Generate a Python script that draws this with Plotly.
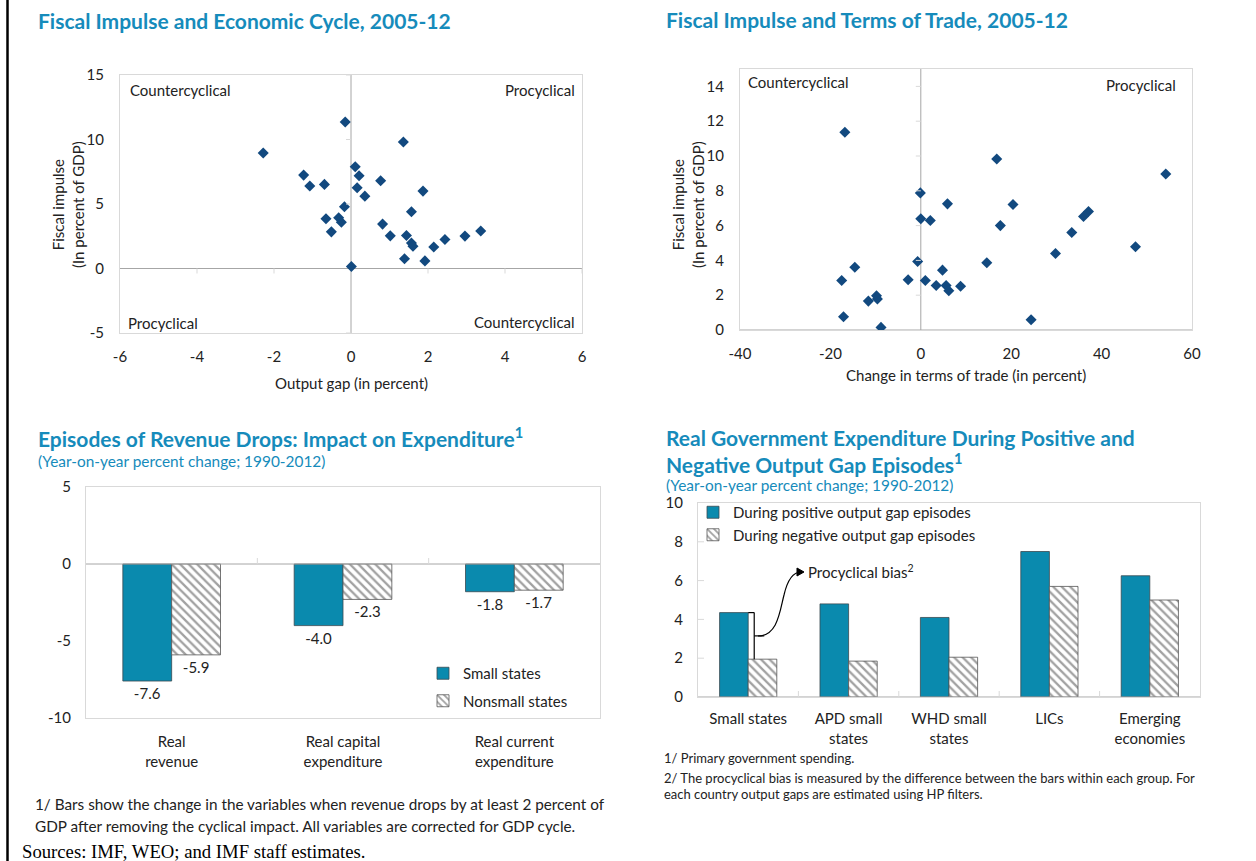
import plotly.graph_objects as go

# ---------------- DATA ----------------
# Chart 1: Fiscal impulse vs output gap
gap_x = [-2.28, -0.15, 1.36, -1.23, -1.07, -0.69, 0.11, 0.21, 0.77, 0.16, 1.87, 0.36, -0.17, 1.57, -0.65,
         -0.32, -0.25, 0.82, -0.51, 1.02, 1.44, 3.37, 2.96, 2.44, 1.57, 1.61, 2.15, 1.39, 1.92, 0.01]
gap_y = [8.95, 11.35, 9.80, 7.24, 6.39, 6.52, 7.89, 7.19, 6.80, 6.26, 6.00, 5.61, 4.78, 4.40, 3.85,
         3.93, 3.59, 3.44, 2.84, 2.53, 2.56, 2.90, 2.51, 2.25, 1.97, 1.73, 1.66, 0.75, 0.59, 0.16]

# Chart 2: Fiscal impulse vs change in terms of trade
tot_x = [-16.8, 16.8, 54.2, -0.1, 5.9, 20.4, 37.1, 36.0, 0.0, 2.1, 17.6, 33.4, 47.5, 29.8, -0.7, 14.6,
         -14.6, 4.8, -17.5, -2.8, 1.0, 3.4, 5.6, 8.8, 6.2, -9.8, -9.6, -11.6, -17.1, 24.4, -8.8]
tot_y = [11.36, 9.83, 8.97, 7.88, 7.25, 7.21, 6.81, 6.52, 6.39, 6.29, 6.00, 5.60, 4.78, 4.40, 3.94, 3.86,
         3.61, 3.44, 2.85, 2.89, 2.85, 2.56, 2.56, 2.51, 2.26, 1.97, 1.78, 1.66, 0.76, 0.59, 0.15]

# Chart 3: Revenue drops
rev_cats = ["Real<br>revenue", "Real capital<br>expenditure", "Real current<br>expenditure"]
rev_small = [-7.6, -4.0, -1.8]
rev_nonsmall = [-5.9, -2.3, -1.7]

# Chart 4: Real government expenditure
exp_cats = ["Small states", "APD small<br>states", "WHD small<br>states", "LICs", "Emerging<br>economies"]
exp_pos = [4.35, 4.8, 4.1, 7.5, 6.25]
exp_neg = [1.95, 1.85, 2.05, 5.7, 5.0]

# tick values
t1x = [-6, -4, -2, 0, 2, 4, 6]
t1y = [-5, 0, 5, 10, 15]
t2x = [-40, -20, 0, 20, 40, 60]
t2y = [0, 2, 4, 6, 8, 10, 12, 14]
t3y = [-10, -5, 0, 5]
t4y = [0, 2, 4, 6, 8, 10]

# ---------------- STYLE ----------------
W, H = 1256, 861
FONT = "Lato"
TITLE_C = "#168BBB"
BAR_C = "#0A8AAE"
DOT_C = "#12497F"
FRAME_C = "#D9D9D9"
AXIS_C = "#A6A6A6"
TXT_C = "#222222"
FS = 15


def px(x):
    return x / W


def py(y):
    return 1 - y / H


fig = go.Figure()

fig.add_trace(go.Scatter(x=gap_x, y=gap_y, mode="markers", xaxis="x", yaxis="y",
                         marker=dict(symbol="diamond", size=8.5, color=DOT_C), showlegend=False))
fig.add_trace(go.Scatter(x=tot_x, y=tot_y, mode="markers", xaxis="x2", yaxis="y2",
                         marker=dict(symbol="diamond", size=8.5, color=DOT_C), showlegend=False))
hatch = dict(shape="\\", fgcolor="#444444", bgcolor="white", size=6, solidity=0.38)
fig.add_trace(go.Bar(x=rev_cats, y=rev_small, name="Small states", xaxis="x3", yaxis="y3",
                     marker=dict(color=BAR_C, line=dict(color="#3A4A50", width=0.8)),
                     texttemplate="%{y:.1f}", textposition="outside",
                     textfont=dict(size=FS, color=TXT_C), cliponaxis=False,
                     legend="legend", legendgroup="a"))
fig.add_trace(go.Bar(x=rev_cats, y=rev_nonsmall, name="Nonsmall states", xaxis="x3", yaxis="y3",
                     marker=dict(color="white", line=dict(color="#555555", width=0.8), pattern=hatch),
                     texttemplate="%{y:.1f}", textposition="outside",
                     textfont=dict(size=FS, color=TXT_C), cliponaxis=False,
                     legend="legend", legendgroup="b"))
fig.add_trace(go.Bar(x=exp_cats, y=exp_pos, name="During positive output gap episodes",
                     xaxis="x4", yaxis="y4",
                     marker=dict(color=BAR_C, line=dict(color="#3A4A50", width=0.8)),
                     legend="legend2"))
fig.add_trace(go.Bar(x=exp_cats, y=exp_neg, name="During negative output gap episodes",
                     xaxis="x4", yaxis="y4",
                     marker=dict(color="white", line=dict(color="#555555", width=0.8), pattern=hatch),
                     legend="legend2"))

tickfont = dict(family=FONT, size=FS, color=TXT_C)
frame = dict(showline=True, mirror=True, linecolor=FRAME_C, linewidth=1, showgrid=False,
             zeroline=False, ticks="outside", tickcolor="rgba(0,0,0,0)", tickfont=tickfont)


def tt(vals):
    return [str(v) for v in vals]


fig.update_layout(
    width=W, height=H, margin=dict(l=0, r=0, t=0, b=0, pad=0, autoexpand=False),
    paper_bgcolor="white", plot_bgcolor="white",
    font=dict(family=FONT, size=FS, color=TXT_C),
    barmode="group", bargap=0.43,
    xaxis=dict(domain=[px(120), px(582)], range=[-6, 6], tickvals=t1x, ticktext=tt(t1x),
               ticklen=10, anchor="y", **frame),
    yaxis=dict(domain=[py(333), py(75)], range=[-5, 15], tickvals=t1y, ticktext=tt(t1y),
               ticklen=12, anchor="x", **frame),
    xaxis2=dict(domain=[px(740), px(1192)], range=[-40, 60], tickvals=t2x, ticktext=tt(t2x),
                ticklen=10, anchor="y2", **frame),
    yaxis2=dict(domain=[py(330), py(69)], range=[0, 15], tickvals=t2y, ticktext=tt(t2y),
                ticklen=12, anchor="x2", **frame),
    xaxis3=dict(domain=[px(86), px(600)], ticklen=10, anchor="y3", **frame),
    yaxis3=dict(domain=[py(718), py(487)], range=[-10, 5], tickvals=t3y, ticktext=tt(t3y),
                ticklen=11, anchor="x3", **frame),
    xaxis4=dict(domain=[px(698), px(1200)], ticklen=8, anchor="y4", **frame),
    yaxis4=dict(domain=[py(697), py(503)], range=[0, 10], tickvals=t4y, ticktext=tt(t4y),
                ticklen=11, anchor="x4", **frame),
    legend=dict(x=px(423), y=py(657), xanchor="left", yanchor="top", bgcolor="rgba(0,0,0,0)",
                font=dict(family=FONT, size=FS, color=TXT_C), traceorder="grouped",
                tracegroupgap=5, itemwidth=30),
    legend2=dict(x=px(693), y=py(496), xanchor="left", yanchor="top", bgcolor="rgba(0,0,0,0)",
                 font=dict(family=FONT, size=FS, color=TXT_C), itemwidth=30, tracegroupgap=0),
)

shapes = []
shapes.append(dict(type="line", xref="paper", yref="paper", x0=px(7.5), x1=px(7.5), y0=0, y1=1,
                   line=dict(color="black", width=2.5)))

axline = dict(color=AXIS_C, width=1)
tick_line = dict(color=FRAME_C, width=1)
# Chart 1
shapes.append(dict(type="line", xref="x", yref="y", x0=t1x[0], x1=t1x[-1], y0=0, y1=0, line=axline, layer="below"))
shapes.append(dict(type="line", xref="x", yref="y", x0=0, x1=0, y0=t1y[0], y1=t1y[-1], line=axline, layer="below"))
for v in t1x:
    if v != 0 and v != t1x[0]:
        shapes.append(dict(type="line", xref="x", yref="y", x0=v, x1=v, ysizemode="pixel", yanchor=0,
                           y0=0, y1=-5, line=tick_line))
for v in t1y:
    if v != 0:
        shapes.append(dict(type="line", xref="x", yref="y", y0=v, y1=v, xsizemode="pixel", xanchor=0,
                           x0=0, x1=-5, line=tick_line))
# Chart 2
shapes.append(dict(type="line", xref="x2", yref="y2", x0=0, x1=0, y0=0, y1=15, line=axline, layer="below"))
shapes.append(dict(type="line", xref="x2", yref="y2", x0=t2x[0], x1=t2x[-1], y0=0, y1=0, line=axline, layer="below"))
for v in t2y[1:]:
    shapes.append(dict(type="line", xref="x2", yref="y2", y0=v, y1=v, xsizemode="pixel", xanchor=0,
                       x0=0, x1=-5, line=tick_line))
for v in t2x[1:-1]:
    shapes.append(dict(type="line", xref="x2", yref="y2", x0=v, x1=v, ysizemode="pixel", yanchor=0,
                       y0=0, y1=-5, line=tick_line))
# Chart 3
shapes.append(dict(type="line", xref="x3 domain", yref="y3", x0=0, x1=1, y0=0, y1=0, line=axline))
for i in range(1, len(rev_cats)):
    shapes.append(dict(type="line", xref="x3", yref="y3", x0=i - 0.5, x1=i - 0.5, ysizemode="pixel",
                       yanchor=0, y0=0, y1=6, line=tick_line))
# Chart 4
shapes.append(dict(type="line", xref="x4 domain", yref="y4", x0=0, x1=1, y0=0, y1=0, line=axline))
for i in range(1, len(exp_cats)):
    shapes.append(dict(type="line", xref="x4", yref="y4", x0=i - 0.5, x1=i - 0.5, ysizemode="pixel",
                       yanchor=0, y0=0, y1=6, line=tick_line))
for v in t4y[1:-1]:
    shapes.append(dict(type="line", xref="x4 domain", yref="y4", y0=v, y1=v, x0=0, x1=0.012, line=tick_line))

# Procyclical bias bracket (from first group values)
top, bot = exp_pos[0], exp_neg[0]
mid = (top + bot) / 2
bx = 0.06
blk = dict(color="black", width=1.2)
shapes.append(dict(type="line", xref="x4", yref="y4", x0=0, x1=bx, y0=top, y1=top, line=blk))
shapes.append(dict(type="line", xref="x4", yref="y4", x0=bx, x1=bx, y0=top, y1=bot, line=blk))
shapes.append(dict(type="line", xref="x4", yref="y4", x0=bx, x1=bx + 0.1, y0=mid, y1=mid, line=blk))


def P(x, y):
    return f"{px(x):.5f},{py(y):.5f}"


path = f"M {P(758, 636)} C {P(778, 636)} {P(780, 610)} {P(784, 595)} C {P(787, 582)} {P(792, 572)} {P(801, 572)}"
shapes.append(dict(type="path", xref="paper", yref="paper", path=path, line=blk))
shapes.append(dict(type="path", xref="paper", yref="paper",
                   path=f"M {P(797, 568)} L {P(804, 572)} L {P(797, 576)} Z",
                   fillcolor="black", line=dict(color="black", width=1)))

fig.update_layout(shapes=shapes)

ann = []


def text(x, y, s, size=FS, color=TXT_C, anchor="left", family=FONT, yanchor="middle"):
    ann.append(dict(x=px(x), y=py(y), xref="paper", yref="paper", text=s, showarrow=False,
                    xanchor=anchor, yanchor=yanchor, align="left",
                    font=dict(family=family, size=size, color=color)))


TS = 21
text(36, 20, "<b>Fiscal Impulse and Economic Cycle, 2005-12</b>", size=TS, color=TITLE_C)
text(664, 19, "<b>Fiscal Impulse and Terms of Trade, 2005-12</b>", size=TS, color=TITLE_C)
text(36, 437, "<b>Episodes of Revenue Drops: Impact on Expenditure<sup>1</sup></b>", size=TS, color=TITLE_C)
text(36, 461, "(Year-on-year percent change; 1990-2012)", size=15.4, color=TITLE_C)
text(664, 437, "<b>Real Government Expenditure During Positive and</b>", size=TS, color=TITLE_C)
text(664, 463, "<b>Negative Output Gap Episodes<sup>1</sup></b>", size=TS, color=TITLE_C)
text(664, 485, "(Year-on-year percent change; 1990-2012)", size=15.4, color=TITLE_C)

text(128, 90, "Countercyclical")
text(577, 90, "Procyclical", anchor="right")
text(126, 323, "Procyclical")
text(577, 322, "Countercyclical", anchor="right")
text(746, 82, "Countercyclical")
text(1178, 85, "Procyclical", anchor="right")

text(351, 383, "Output gap (in percent)", anchor="center")
ann.append(dict(x=px(68), y=py(205), xref="paper", yref="paper", text="Fiscal impulse<br>(In percent of GDP)",
                showarrow=False, textangle=-90, xanchor="center", yanchor="middle", align="center",
                font=dict(family=FONT, size=FS, color=TXT_C)))
text(966, 375, "Change in terms of trade (in percent)", anchor="center")
ann.append(dict(x=px(688), y=py(205), xref="paper", yref="paper", text="Fiscal impulse<br>(In percent of GDP)",
                showarrow=False, textangle=-90, xanchor="center", yanchor="middle", align="center",
                font=dict(family=FONT, size=FS, color=TXT_C)))

text(806, 571, "Procyclical bias<sup>2</sup>", size=FS)

text(33, 804, "1/ Bars show the change in the variables when revenue drops by at least 2 percent of", size=15.3)
text(33, 826, "GDP after removing the cyclical impact. All variables are corrected for GDP cycle.", size=15.3)
text(20, 851, "Sources: IMF, WEO; and IMF staff estimates.", size=18.7, family="Liberation Serif", color="black")
text(662, 758, "1/ Primary government spending.", size=13)
text(662, 778, "2/ The procyclical bias is measured by the difference between the bars within each group. For", size=13)
text(662, 794, "each country output gaps are estimated using HP filters.", size=13)

fig.update_layout(annotations=ann)

fig.write_html("out.html", config={"displayModeBar": False},
               post_script="document.body.style.margin='0';document.body.style.overflow='hidden';")
